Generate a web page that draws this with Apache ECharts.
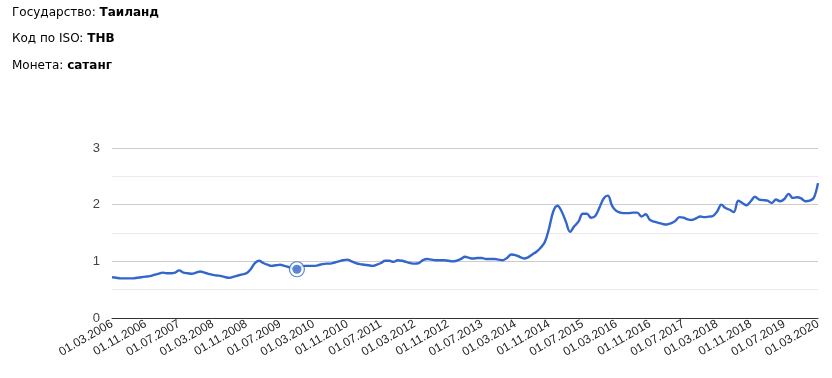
<!DOCTYPE html>
<html>
<head>
<meta charset="utf-8">
<script src="https://cdn.jsdelivr.net/npm/echarts@6/dist/echarts.min.js"></script>
<style>
html,body{margin:0;padding:0;background:#fff;width:832px;height:378px;overflow:hidden;}
#info{position:absolute;left:12px;top:0;font-family:"DejaVu Sans",Verdana,sans-serif;font-size:12px;color:#000;}
#info div{position:absolute;left:0;white-space:nowrap;}
#chart{position:absolute;left:0;top:0;width:832px;height:378px;}
</style>
</head>
<body>
<div id="chart"></div>
<div id="info">
  <div style="top:5px">Государство: <b>Таиланд</b></div>
  <div style="top:31px">Код по ISO: <b>THB</b></div>
  <div style="top:58px">Монета: <b>сатанг</b></div>
</div>
<script>
// Monthly categories 01.03.2006 .. 01.03.2020
var categories = [];
(function(){
  var y = 2006, m = 3;
  while (y < 2020 || (y === 2020 && m <= 3)) {
    categories.push('01.' + (m < 10 ? '0' + m : m) + '.' + y);
    m++; if (m > 12) { m = 1; y++; }
  }
})();

var values = [
  0.72,0.71,0.70,0.70,0.70,0.70,0.71,0.72,0.73,0.74,0.76,0.78,
  0.80,0.79,0.79,0.80,0.84,0.80,0.79,0.78,0.80,0.82,0.80,0.78,
  0.76,0.75,0.74,0.72,0.71,0.73,0.75,0.77,0.79,0.86,0.97,1.01,
  0.97,0.94,0.92,0.93,0.94,0.92,0.90,0.88,0.86,0.91,0.92,0.92,
  0.92,0.93,0.95,0.96,0.96,0.98,1.00,1.02,1.03,1.00,0.97,0.95,
  0.94,0.93,0.92,0.94,0.97,1.01,1.01,0.99,1.02,1.01,0.99,0.97,
  0.96,0.97,1.02,1.04,1.03,1.02,1.02,1.02,1.01,1.00,1.01,1.04,
  1.08,1.06,1.05,1.06,1.06,1.04,1.04,1.04,1.03,1.02,1.06,1.12,
  1.11,1.08,1.05,1.07,1.12,1.17,1.24,1.34,1.58,1.88,1.98,1.88,
  1.70,1.52,1.62,1.70,1.84,1.84,1.77,1.80,1.95,2.11,2.16,1.98,
  1.89,1.86,1.85,1.85,1.86,1.86,1.79,1.83,1.73,1.70,1.68,1.66,
  1.65,1.67,1.71,1.78,1.77,1.74,1.73,1.76,1.79,1.78,1.79,1.80,
  1.88,2.00,1.94,1.91,1.87,2.07,2.03,1.99,2.06,2.14,2.09,2.08,
  2.07,2.03,2.09,2.06,2.10,2.19,2.12,2.13,2.11,2.06,2.07,2.12,
  2.38
];

var highlightIndex = 44;
var yTicks = [0, 1, 2, 3];

var chart = echarts.init(document.getElementById('chart'), null, {renderer: 'canvas'});
chart.setOption({
  animation: false,
  grid: {left: 112, right: 14, top: 148, bottom: 60, containLabel: false},
  xAxis: {
    type: 'category',
    data: categories,
    boundaryGap: false,
    axisLine: {show: true, lineStyle: {color: '#333', width: 1}},
    axisTick: {show: false},
    axisLabel: {
      interval: 7,
      rotate: 30,
      fontFamily: 'Liberation Sans, Arial, sans-serif',
      fontSize: 12,
      color: '#222',
      margin: 5
    },
    splitLine: {show: false}
  },
  yAxis: {
    type: 'value',
    min: yTicks[0],
    max: yTicks[yTicks.length - 1],
    interval: 1,
    axisLine: {show: false},
    axisTick: {show: false},
    axisLabel: {
      fontFamily: 'Liberation Sans, Arial, sans-serif',
      fontSize: 13,
      color: '#444',
      margin: 12
    },
    splitLine: {show: true, lineStyle: {color: '#cccccc', width: 1}},
    minorTick: {show: false, splitNumber: 2},
    minorSplitLine: {show: true, lineStyle: {color: '#ebebeb', width: 1}}
  },
  series: [
    {
      type: 'line',
      data: values,
      smooth: 0.35,
      showSymbol: false,
      symbol: 'none',
      lineStyle: {color: '#3366cc', width: 2.4},
      itemStyle: {color: '#3366cc'},
      z: 2
    },
    {
      type: 'scatter',
      data: [[highlightIndex, values[highlightIndex]]],
      symbol: 'circle',
      symbolSize: 15,
      itemStyle: {color: '#ffffff', borderColor: '#3366cc', borderWidth: 1.2},
      silent: true,
      z: 3
    },
    {
      type: 'scatter',
      data: [[highlightIndex, values[highlightIndex]]],
      symbol: 'circle',
      symbolSize: 9,
      itemStyle: {color: '#3366cc'},
      silent: true,
      z: 4
    }
  ]
});
</script>
</body>
</html>
